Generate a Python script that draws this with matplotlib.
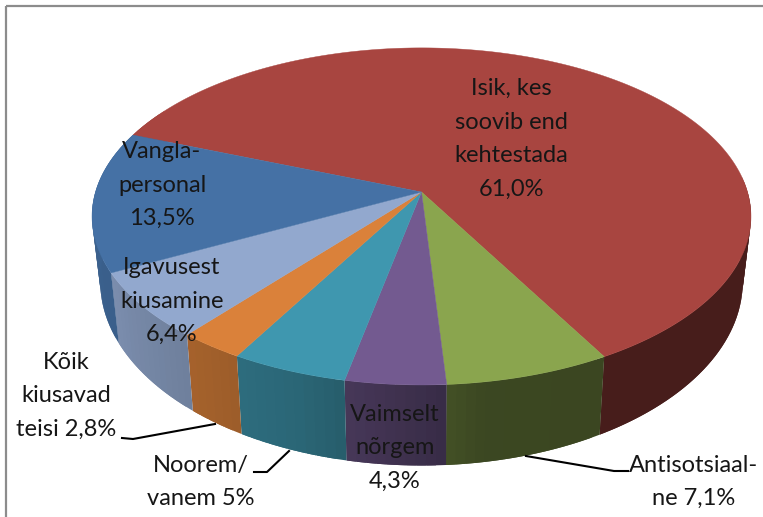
import numpy as np
import matplotlib
matplotlib.use("Agg")
import matplotlib.pyplot as plt

plt.rcParams['font.family'] = ['Lato', 'DejaVu Sans']

# ==== Data ==== #
categories = ["Isik, kes soovib end kehtestada", "Antisotsiaalne", "Vaimselt nõrgem",
              "Noorem/vanem", "Kõik kiusavad teisi", "Igavusest kiusamine", "Vanglapersonal"]
values = [61.0, 7.1, 4.3, 5.0, 2.8, 6.4, 13.5]
labels = ["Isik, kes\nsoovib end\nkehtestada\n61,0%", "Antisotsiaal-\nne 7,1%", "Vaimselt\nnõrgem\n4,3%",
          "Noorem/\nvanem 5%", "Kõik\nkiusavad\nteisi 2,8%", "Igavusest\nkiusamine\n6,4%",
          "Vangla-\npersonal\n13,5%"]

# ==== Style and layout ==== #
colors = ['#A84540', '#8AA54E', '#735A90', '#3F97AF', '#DA813A', '#92A8CE', '#4571A5']
label_pos = [(511, 139), (694, 482), (395, 448), (201, 482), (66, 396), (172, 301), (162, 185)]
leaders = {1: [(526, 456), (614, 471), (628, 471)],
           3: [(289, 451), (267, 472), (254, 472)],
           4: [(215, 424), (133, 439), (122, 438)]}
start_angle = 291.3
cx, apex_y, rx, sy, persp = 421.5, 192.0, 326.0, 165.0, 0.145
bottom_y, bottom_sy, bottom_sx = 255.0, 180.0, 0.975


def rim(t, bottom=False):
    # perspective projection of the disc, t in degrees clockwise from the back
    r = np.radians(t)
    x_d, y_d = np.sin(r), -np.cos(r)
    w = 1 - persp * y_d
    if bottom:
        return cx + bottom_sx * rx * x_d / w, bottom_y + bottom_sy * y_d / w
    return cx + rx * x_d / w, apex_y + sy * y_d / w


def side_shade(t):
    a = (t - 90) % 360 + 90
    return np.interp(a, [130, 170, 185, 200, 220, 242, 291, 340], [0.42, 0.43, 0.56, 0.68, 0.76, 0.84, 0.88, 0.88])


fig = plt.figure(figsize=(7.63, 5.17), dpi=100)
ax = fig.add_axes([0, 0, 1, 1])
ax.set_xlim(0, 763)
ax.set_ylim(517, 0)
ax.axis('off')

# ==== Wedge angles ==== #
sweep = np.array(values) / sum(values) * 360
starts = start_angle + np.concatenate(([0], np.cumsum(sweep)[:-1]))

# ==== Side wall, slices overlap so no seams show ==== #
for s, w, c in zip(starts, sweep, colors):
    base = np.array(matplotlib.colors.to_rgb(c))
    steps = np.linspace(s, s + w, max(int(w / 1.5), 2) + 1)
    for a, b in zip(steps[:-1], steps[1:]):
        if 85 < (0.5 * (a + b)) % 360 < 300:
            tt = np.linspace(a, min(b + 1.5, s + w), 5)
            xt, yt = rim(tt)
            xb, yb = rim(tt, bottom=True)
            col = base * side_shade(0.5 * (a + b))
            ax.fill(np.r_[xt, xb[::-1]], np.r_[yt, yb[::-1]], color=col, lw=0, zorder=2)

# ==== Top face ==== #
for s, w, c in zip(starts, sweep, colors):
    tt = np.linspace(s, s + w, int(w * 2) + 2)
    xt, yt = rim(tt)
    ax.fill(np.r_[cx, xt], np.r_[apex_y, yt], color=c, lw=0.3, zorder=3)

# ==== Labels ==== #
for txt, (x, y) in zip(labels, label_pos):
    ax.text(x, y, txt, ha='center', va='center', fontsize=17, color='#161616', linespacing=1.74, zorder=5)

for pts in leaders.values():
    ax.plot([p[0] for p in pts], [p[1] for p in pts], color='black', lw=1.5, zorder=4)

# ==== Frame ==== #
ax.plot([6, 6], [517, 5.5], color='#8c8c8c', lw=1.6, zorder=1, solid_capstyle='butt')
ax.plot([6, 763], [5.5, 5.5], color='#8c8c8c', lw=1.6, zorder=1, solid_capstyle='butt')

fig.savefig("out.png", dpi=100)
